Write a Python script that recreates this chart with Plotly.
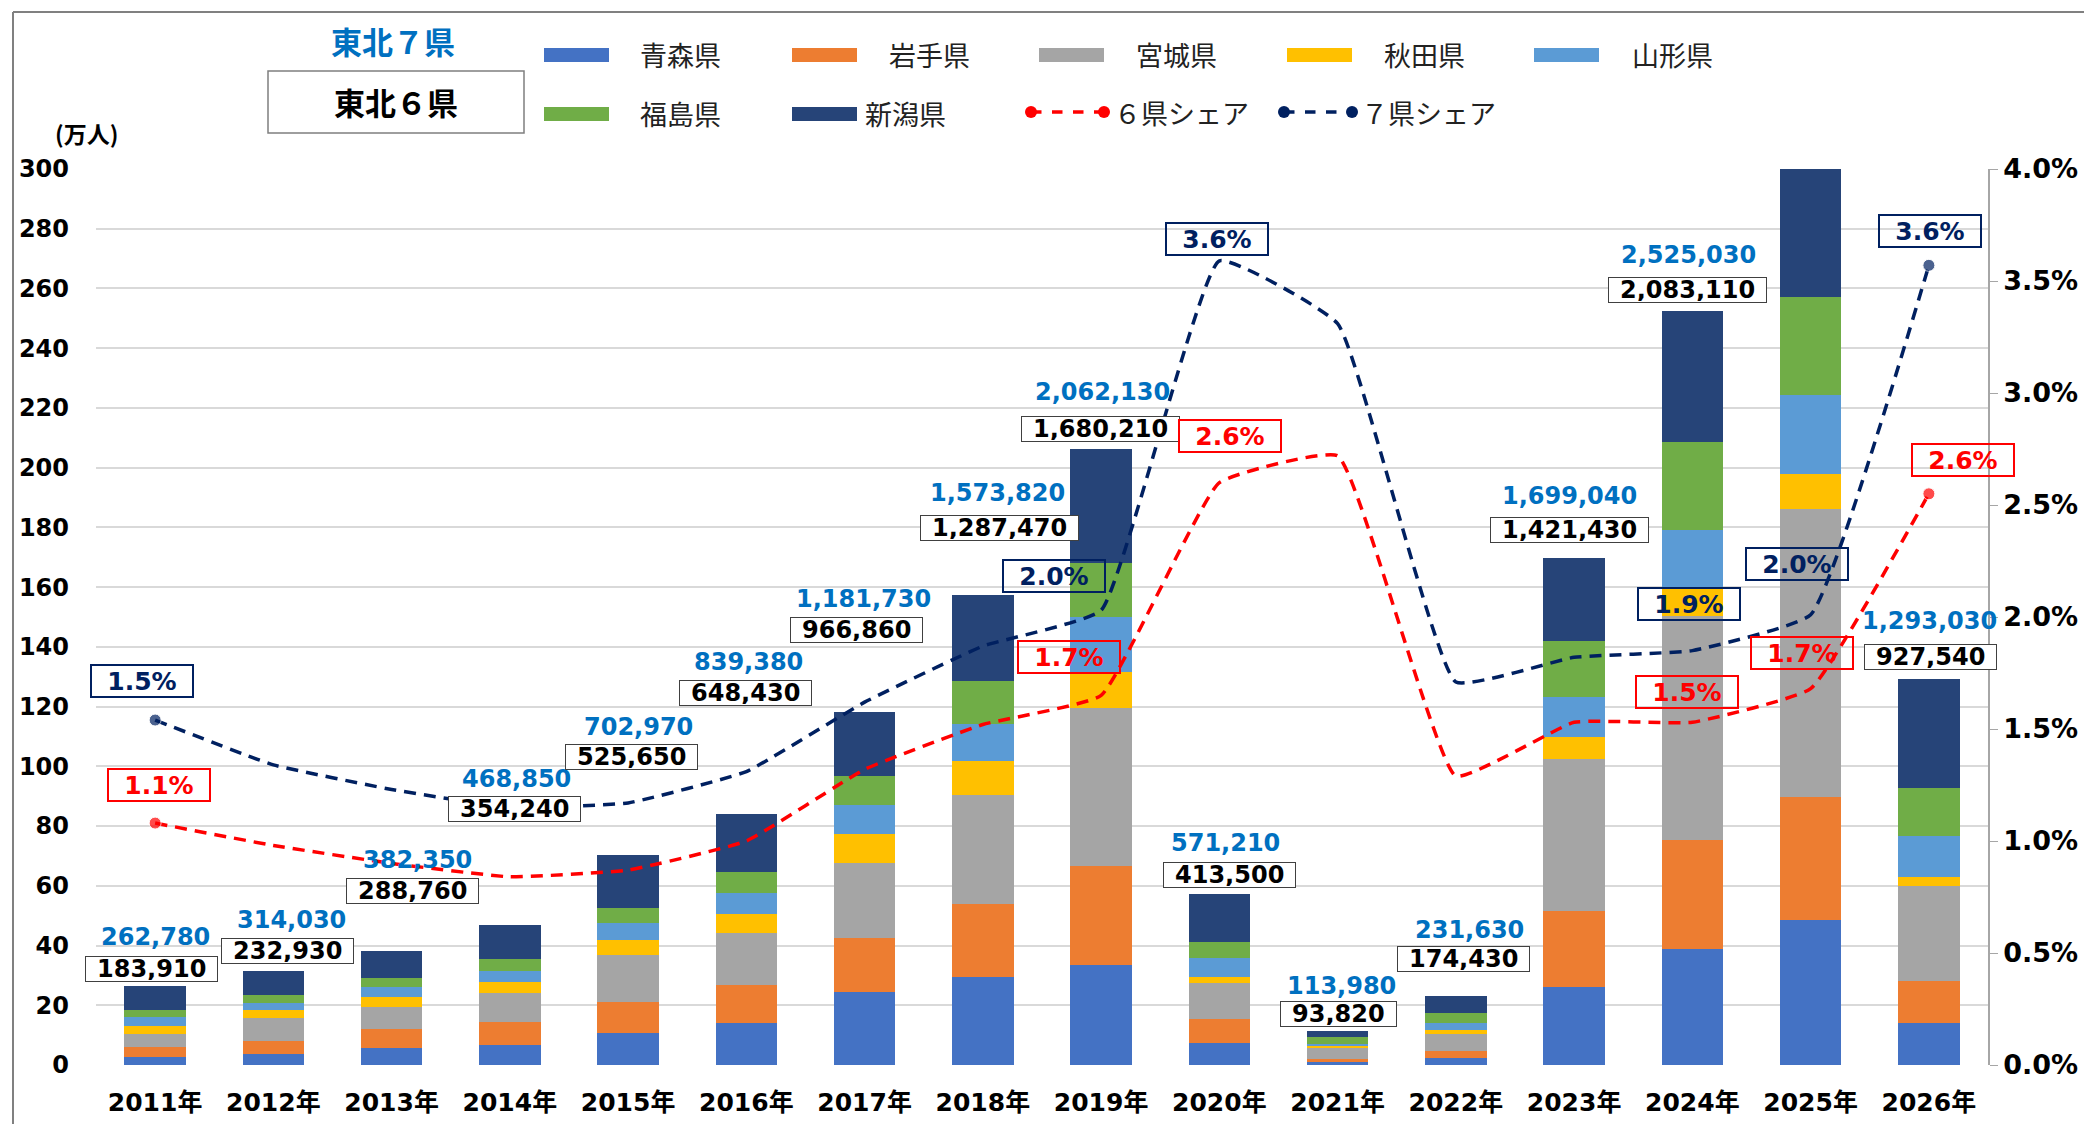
import plotly.graph_objects as go

# ---------------- data ----------------
years = ["2011年", "2012年", "2013年", "2014年", "2015年", "2016年", "2017年", "2018年",
         "2019年", "2020年", "2021年", "2022年", "2023年", "2024年", "2025年", "2026年"]

# stacked values (万人)
aomori    = [2.7, 3.8, 5.6, 6.7, 10.7, 14.2, 24.3, 29.3, 33.6, 7.3, 1.0, 2.5, 26.0, 38.7, 48.5, 13.9]
iwate     = [3.2, 4.3, 6.3, 7.7, 10.4, 12.6, 18.3, 24.7, 32.9, 8.0, 1.1, 2.2, 25.4, 36.8, 41.4, 14.3]
miyagi    = [4.5, 7.7, 7.5, 9.7, 15.7, 17.4, 25.0, 36.4, 53.2, 12.0, 3.6, 5.8, 50.9, 75.0, 96.1, 31.8]
akita     = [2.6, 2.5, 3.4, 3.6, 5.0, 6.4, 9.6, 11.5, 11.8, 2.0, 0.6, 1.2, 7.4, 9.1, 12.0, 2.8]
yamagata  = [3.0, 2.3, 3.2, 3.7, 5.9, 7.1, 10.0, 12.3, 18.6, 6.5, 0.8, 2.3, 13.6, 19.6, 26.4, 13.8]
fukushima = [2.5, 2.8, 3.0, 4.0, 4.9, 6.9, 9.7, 14.5, 18.1, 5.3, 2.3, 3.4, 18.7, 29.3, 32.9, 16.3]
niigata   = [7.9, 8.1, 9.3, 11.5, 17.7, 19.3, 21.3, 28.7, 38.0, 16.0, 2.0, 5.8, 27.9, 44.0, 51.9, 36.4]

# totals shown as labels
total7 = [262780, 314030, 382350, 468850, 702970, 839380, 1181730, 1573820,
          2062130, 571210, 113980, 231630, 1699040, 2525030, 3092000, 1293030]
total6 = [183910, 232930, 288760, 354240, 525650, 648430, 966860, 1287470,
          1680210, 413500, 93820, 174430, 1421430, 2083110, 2572950, 927540]

# shares (%)
share6 = [1.08, 0.98, 0.90, 0.84, 0.87, 1.00, 1.32, 1.52, 1.65, 2.60, 2.72, 1.29, 1.53, 1.53, 1.68, 2.55]
share7 = [1.54, 1.34, 1.23, 1.15, 1.17, 1.31, 1.62, 1.87, 2.03, 3.59, 3.31, 1.71, 1.82, 1.85, 2.01, 3.57]

# share labels shown (year index, text)
share6_labels = [(0, "1.1%"), (8, "1.7%"), (9, "2.6%"), (13, "1.5%"), (14, "1.7%"), (15, "2.6%")]
share7_labels = [(0, "1.5%"), (8, "2.0%"), (9, "3.6%"), (13, "1.9%"), (14, "2.0%"), (15, "3.6%")]

y_ticks_left = list(range(0, 301, 20))

# ---------------- label placement (layout only) ----------------
blue_y  = [42.7, 48.7, 68.6, 95.6, 113.1, 134.9, 156.0, 191.5, 225.3, 74.2, 26.5, 45.1, 190.5, 271.2, 319.4, 148.8]
blue_dx = [0, 18, 26, 7, 10, 2, -1, 15, 1, 6, 4, 14, -5, -4, -6, 1]
black_y  = [32.3, 38.2, 58.3, 85.6, 103.0, 124.7, 145.8, 179.7, 213.1, 63.5, 17.0, 35.6, 179.0, 259.6, 307.6, 136.7]
black_dx = [-4, 14, 21, 5, 3, -1, -8, 17, -1, 10, 1, 8, -5, -5, 1, 2]
s6_pos = [(93.6, 4), (136.6, -32), (210.5, 11), (124.8, -5), (137.9, -9), (202.7, 34)]
s7_pos = [(128.7, -13), (163.8, -47), (276.5, -2), (154.4, -3), (167.6, -14), (279.4, 1)]

# ---------------- styling ----------------
names  = ["青森県", "岩手県", "宮城県", "秋田県", "山形県", "福島県", "新潟県"]
series = [aomori, iwate, miyagi, akita, yamagata, fukushima, niigata]
colors = ["#4472C4", "#ED7D31", "#A5A5A5", "#FFC000", "#5B9BD5", "#70AD47", "#264478"]
RED = "#FF0000"
NAVY = "#002060"
BLUE_TXT = "#0070C0"
NUMF = "DejaVu Sans, Noto Sans CJK JP, sans-serif"
JPF = "Noto Sans CJK JP, DejaVu Sans, sans-serif"

# page body has an 8px margin: build the figure 8px smaller, screen coords shifted by OFF
OFF = 8
W, H = 2092 - OFF, 1124 - OFF
L, T = 96 - OFF, 169 - OFF
R = W - (1988 - OFF)
B = H - (1065 - OFF)
PW, PH = W - L - R, H - T - B


def px_x(x):  # screen px -> paper
    return (x - OFF - L) / PW


def px_y(y):
    return (H - B - (y - OFF)) / PH


fig = go.Figure()

for nm, vals, col in zip(names, series, colors):
    fig.add_trace(go.Bar(x=years, y=vals, name=nm, marker=dict(color=col, line=dict(width=0)),
                         showlegend=False))

end_sizes = [12] + [0] * (len(years) - 2) + [12]
fig.add_trace(go.Scatter(x=years, y=share6, yaxis="y2", mode="lines+markers", name="６県シェア",
                         line=dict(color=RED, width=3.5, dash="12px,8px", shape="spline", smoothing=0.35),
                         marker=dict(size=end_sizes, color=RED), showlegend=False))
fig.add_trace(go.Scatter(x=years, y=share7, yaxis="y2", mode="lines+markers", name="７県シェア",
                         line=dict(color=NAVY, width=3.5, dash="12px,8px", shape="spline", smoothing=0.35),
                         marker=dict(size=end_sizes, color=NAVY), showlegend=False))

ann = []
shapes = []
NUMSZ = 24

# value labels
for i, yr in enumerate(years):
    t7 = f"{total7[i]:,}"
    ann.append(dict(x=yr, y=blue_y[i], xref="x", yref="y", text=t7, showarrow=False,
                    xshift=blue_dx[i], font=dict(family=NUMF, size=NUMSZ, color=BLUE_TXT, weight="bold")))
    t6 = f"{total6[i]:,}"
    w = (sum(c.isdigit() for c in t6) * 0.696 + t6.count(",") * 0.38) * NUMSZ + 20
    ann.append(dict(x=yr, y=black_y[i], xref="x", yref="y", text=t6, showarrow=False,
                    xshift=black_dx[i], width=w, height=22, borderpad=1,
                    bgcolor="white", bordercolor="#404040", borderwidth=1,
                    font=dict(family=NUMF, size=NUMSZ, color="black", weight="bold")))

for (idx, txt), (yy, dx) in zip(share6_labels, s6_pos):
    ann.append(dict(x=years[idx], y=yy, xref="x", yref="y", text=txt, showarrow=False, xshift=dx,
                    width=96, height=26, borderpad=2, bordercolor=RED, borderwidth=2,
                    font=dict(family=NUMF, size=25, color=RED, weight="bold")))
for (idx, txt), (yy, dx) in zip(share7_labels, s7_pos):
    ann.append(dict(x=years[idx], y=yy, xref="x", yref="y", text=txt, showarrow=False, xshift=dx,
                    width=96, height=26, borderpad=2, bordercolor=NAVY, borderwidth=2,
                    font=dict(family=NUMF, size=25, color=NAVY, weight="bold")))


def paper_text(x, y, text, size, color, weight="normal", xanchor="center"):
    ann.append(dict(x=px_x(x), y=px_y(y), xref="paper", yref="paper", text=text, showarrow=False,
                    xanchor=xanchor, yanchor="middle",
                    font=dict(family=JPF, size=size, color=color, weight=weight)))


# titles
paper_text(393, 40, "東北７県", 31, BLUE_TXT, "bold")
paper_text(396, 102, "東北６県", 31, "black", "bold")
shapes.append(dict(type="rect", xref="paper", yref="paper", x0=px_x(268), x1=px_x(524),
                   y0=px_y(133), y1=px_y(71), line=dict(color="#7F7F7F", width=1.5)))
paper_text(86, 133, "(万人)", 23, "black", "bold")

# frame
shapes.append(dict(type="line", xref="paper", yref="paper", x0=px_x(13), x1=px_x(13),
                   y0=px_y(12), y1=px_y(1140), line=dict(color="#808080", width=2)))
shapes.append(dict(type="line", xref="paper", yref="paper", x0=px_x(13), x1=px_x(2110),
                   y0=px_y(12), y1=px_y(12), line=dict(color="#808080", width=2)))

# custom legend
leg_rows = [(544, 638, 55), (792, 887, 55), (1039, 1134, 55), (1287, 1382, 55), (1534, 1630, 55),
            (544, 638, 114), (792, 863, 114)]
for (sx, tx, cy), nm, col in zip(leg_rows, names, colors):
    shapes.append(dict(type="rect", xref="paper", yref="paper", x0=px_x(sx), x1=px_x(sx + 65),
                       y0=px_y(cy + 7), y1=px_y(cy - 7), fillcolor=col, line=dict(width=0)))
    paper_text(tx, cy - 1, nm, 27, "#222222", xanchor="left")
for (lx0, lx1, tx), nm, col in zip([(1031, 1104, 1112), (1284, 1352, 1359)], ["６県シェア", "７県シェア"], [RED, NAVY]):
    cy = 112
    shapes.append(dict(type="line", xref="paper", yref="paper", x0=px_x(lx0), x1=px_x(lx1),
                       y0=px_y(cy), y1=px_y(cy), line=dict(color=col, width=3.5, dash="dash")))
    for cx in (lx0, lx1):
        shapes.append(dict(type="circle", xref="paper", yref="paper", x0=px_x(cx - 6), x1=px_x(cx + 6),
                           y0=px_y(cy + 6), y1=px_y(cy - 6), fillcolor=col, line=dict(width=0)))
    paper_text(tx, cy, nm, 27, "#222222", xanchor="left")

fig.update_layout(
    width=W, height=H,
    margin=dict(l=L, r=R, t=T, b=B, pad=0, autoexpand=False),
    paper_bgcolor="white", plot_bgcolor="white",
    barmode="stack", bargap=0.48,
    showlegend=False,
    font=dict(family=NUMF),
    xaxis=dict(type="category", range=[-0.5, len(years) - 0.5], autorange=False,
               showgrid=False, showline=False, ticks="",
               tickfont=dict(family=NUMF, size=25, color="black", weight="bold"),
               ticklabelstandoff=20),
    yaxis=dict(range=[0, 300], tickvals=y_ticks_left, showgrid=True, gridcolor="#D9D9D9", gridwidth=1.5,
               zeroline=False, showline=False, ticks="",
               tickfont=dict(family=NUMF, size=24, color="black", weight="bold"),
               ticklabelstandoff=26),
    yaxis2=dict(range=[0, 4], dtick=0.5, tick0=0, tickformat=".1f", ticksuffix="%", overlaying="y",
                side="right", showgrid=False, zeroline=False, showline=True, linecolor="#A6A6A6",
                linewidth=1.5, ticks="outside", ticklen=8, tickcolor="#A6A6A6",
                tickfont=dict(family=NUMF, size=27, color="black", weight="bold")),
    annotations=ann,
    shapes=shapes,
)

fig.write_html("out.html")
